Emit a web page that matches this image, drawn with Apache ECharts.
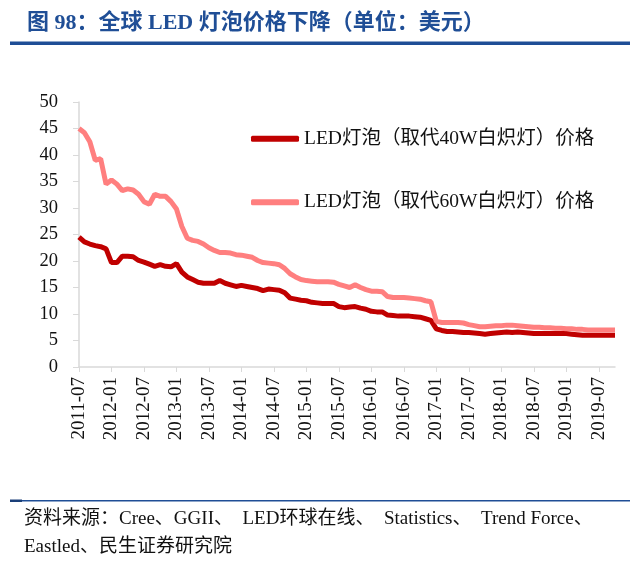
<!DOCTYPE html>
<html>
<head>
<meta charset="utf-8">
<script src="https://cdn.jsdelivr.net/npm/echarts@6/dist/echarts.min.js"></script>
<style>
  html, body { margin: 0; padding: 0; background: #fff; }
  #main { width: 640px; height: 567px; }
</style>
</head>
<body>
<div id="main"></div>
<script>
// months 2011-07 .. 2019-10
var months = [];
for (var y = 2011; y <= 2019; y++) {
  for (var m = 1; m <= 12; m++) {
    if (y === 2011 && m < 7) continue;
    if (y === 2019 && m > 10) continue;
    months.push(y + '-' + (m < 10 ? '0' + m : m));
  }
}

var name40 = 'LED灯泡（取代40W白炽灯）价格';
var name60 = 'LED灯泡（取代60W白炽灯）价格';

var price40 = [
  24.5, 23.6, 23.2, 22.9, 22.7, 22.3, 19.7, 19.7, 20.9, 20.9, 20.8, 20.1,
  19.8, 19.4, 19.0, 19.3, 19.0, 18.9, 19.5, 17.9, 17.0, 16.5, 16.0, 15.8,
  15.8, 15.8, 16.3, 15.8, 15.5, 15.2, 15.4, 15.2, 15.0, 14.8, 14.4, 14.7,
  14.6, 14.5, 14.0, 13.0, 12.8, 12.6, 12.5, 12.2, 12.1, 12.0, 12.0, 12.0,
  11.4, 11.2, 11.3, 11.4, 11.1, 10.9, 10.5, 10.4, 10.4, 9.8, 9.7, 9.6,
  9.6, 9.6, 9.5, 9.4, 9.1, 8.8, 7.2, 6.9, 6.7, 6.7, 6.6, 6.5,
  6.5, 6.4, 6.3, 6.2, 6.3, 6.4, 6.5, 6.6, 6.5, 6.6, 6.5, 6.4,
  6.3, 6.3, 6.3, 6.3, 6.3, 6.3, 6.3, 6.2, 6.1, 6.0, 6.0, 6.0,
  6.0, 6.0, 6.0, 6.0
];

var price60 = [
  45.0, 44.2, 42.5, 39.0, 39.3, 34.5, 35.3, 34.5, 33.3, 33.6, 33.4, 32.6,
  31.2, 30.7, 32.6, 32.2, 32.2, 31.2, 29.8, 26.5, 24.3, 23.9, 23.7, 23.2,
  22.5, 22.0, 21.6, 21.6, 21.5, 21.2, 21.1, 20.9, 20.7, 20.1, 19.7, 19.6,
  19.5, 19.3, 18.6, 17.6, 17.0, 16.5, 16.3, 16.2, 16.1, 16.1, 16.1, 16.0,
  15.6, 15.3, 15.0, 15.5, 15.0, 14.6, 14.3, 14.3, 14.2, 13.3, 13.1, 13.1,
  13.1, 13.0, 12.9, 12.8, 12.5, 12.3, 8.6, 8.4, 8.4, 8.4, 8.4, 8.3,
  8.0, 7.8, 7.6, 7.6, 7.7, 7.8, 7.8, 7.9, 7.9, 7.8, 7.7, 7.6,
  7.5, 7.5, 7.4, 7.4, 7.3, 7.3, 7.2, 7.2, 7.1, 7.1, 7.0, 7.0,
  7.0, 7.0, 7.0, 7.0
];

var serif = '"Liberation Serif", "Times New Roman", "Noto Sans CJK SC", serif';
var blue = '#1F4E96';

var myChart = echarts.init(document.getElementById('main'));
var option = {
  animation: false,
  backgroundColor: '#fff',
  title: {
    text: '图 98：全球 LED 灯泡价格下降（单位：美元）',
    left: 22,
    top: 7,
    textStyle: { color: blue, fontSize: 22, fontWeight: 'bold', fontFamily: serif }
  },
  graphic: [
    { type: 'rect', shape: { x: 10, y: 41.5, width: 620, height: 3.5 }, style: { fill: blue } },
    { type: 'rect', shape: { x: 10, y: 500, width: 620, height: 1.5 }, style: { fill: blue } },
    { type: 'rect', shape: { x: 10, y: 499.5, width: 12, height: 2.5 }, style: { fill: '#1a3f78' } },
    {
      type: 'text', left: 24, top: 505,
      style: {
        text: '资料来源：Cree、GGII、  LED环球在线、  Statistics、  Trend Force、\nEastled、民生证券研究院',
        fill: '#111', font: '19px ' + serif, lineHeight: 28
      }
    }
  ],
  legend: {
    orient: 'vertical',
    left: 246,
    top: 124,
    itemGap: 44,
    itemWidth: 48,
    itemHeight: 6,
    icon: 'roundRect',
    textStyle: { fontSize: 19.5, color: '#111', fontFamily: serif },
    data: [name40, name60]
  },
  grid: { left: 79, right: 25, top: 102, bottom: 200 },
  xAxis: {
    type: 'category',
    data: months,
    boundaryGap: false,
    axisLine: { lineStyle: { color: '#d9d9d9', width: 1.5 } },
    axisTick: { interval: 5, length: 5, lineStyle: { color: '#d9d9d9' } },
    axisLabel: {
      interval: 5, rotate: 90, margin: 10,
      fontSize: 19, color: '#111', fontFamily: serif
    }
  },
  yAxis: {
    type: 'value',
    min: 0,
    max: 50,
    interval: 5,
    splitLine: { show: false },
    axisLine: { show: true, lineStyle: { color: '#d9d9d9', width: 1.5 } },
    axisTick: { show: true, length: 6, lineStyle: { color: '#d9d9d9' } },
    axisLabel: { fontSize: 18.5, color: '#111', fontFamily: serif, margin: 21 }
  },
  series: [
    {
      name: name40,
      type: 'line',
      data: price40,
      symbol: 'none',
      color: '#C00000',
      lineStyle: { width: 5, color: '#C00000' }
    },
    {
      name: name60,
      type: 'line',
      data: price60,
      symbol: 'none',
      color: '#FF7F7F',
      lineStyle: { width: 5, color: '#FF7F7F' }
    }
  ]
};
myChart.setOption(option);

window.onresize = function () {
  myChart.resize();
};
</script>
</body>
</html>
